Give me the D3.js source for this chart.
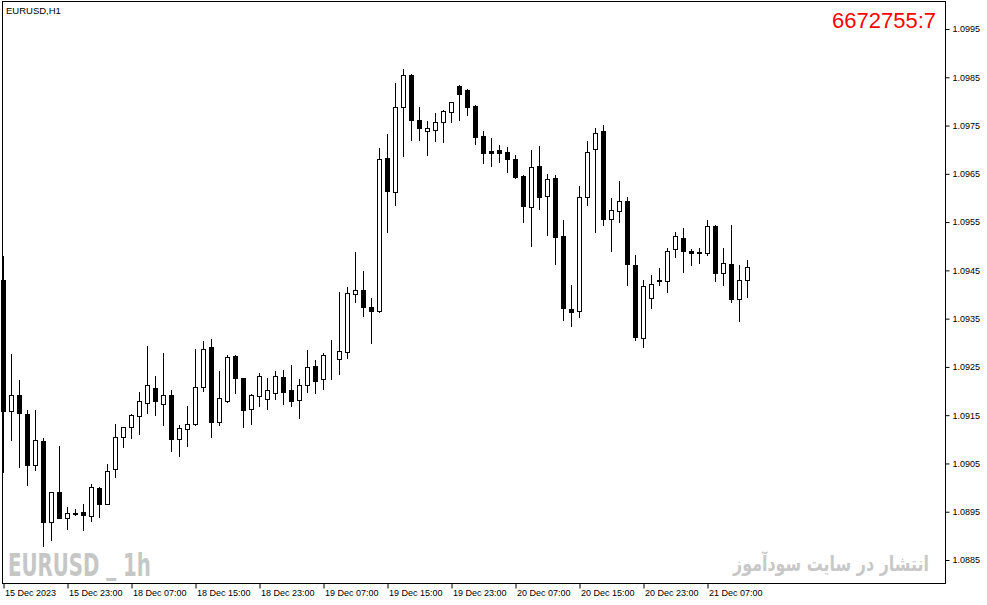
<!DOCTYPE html>
<html><head><meta charset="utf-8">
<script src="https://cdn.jsdelivr.net/npm/d3@7"></script>
<style>
html,body{margin:0;padding:0;background:#fff;}
svg{display:block;}
</style></head>
<body>
<svg id="chart" width="987" height="605"></svg>
<script>
// ---- data (EURUSD H1) ----
const symbolTitle = "EURUSD,H1";
const counterText = "6672755:7";
const watermarkLeft = ["EURUSD ", "_", " 1h"];
const watermarkRight = "انتشار در سایت سودآموز";

const opens = [1.09430,1.09159,1.09191,1.09152,1.09047,1.09097,1.08929,1.08990,1.08938,1.08948,
1.08949,1.08941,1.08999,1.08967,1.09038,1.09104,1.09125,1.09148,1.09175,1.09206,
1.09173,1.09191,1.09100,1.09121,1.09131,1.09208,1.09291,1.09135,1.09180,1.09273,
1.09226,1.09162,1.09189,1.09184,1.09195,1.09229,1.09202,1.09182,1.09212,1.09251,
1.09224,1.09270,1.09266,1.09280,1.09400,1.09409,1.09374,1.09365,1.09682,1.09613,
1.09788,1.09854,1.09762,1.09739,1.09741,1.09757,1.09779,1.09832,1.09824,1.09791,
1.09728,1.09698,1.09699,1.09695,1.09681,1.09646,1.09581,1.09666,1.09605,1.09641,
1.09521,1.09369,1.09366,1.09603,1.09701,1.09739,1.09556,1.09574,1.09594,1.09461,
1.09309,1.09392,1.09431,1.09427,1.09494,1.09517,1.09490,1.09488,1.09487,1.09542,
1.09444,1.09463,1.09390,1.09431];
const highs = [1.09480,1.09277,1.09223,1.09161,1.09161,1.09102,1.08991,1.09086,1.08959,1.08955,
1.08967,1.09007,1.09001,1.09049,1.09132,1.09126,1.09152,1.09197,1.09293,1.09231,
1.09278,1.09202,1.09130,1.09169,1.09287,1.09304,1.09308,1.09241,1.09275,1.09275,
1.09227,1.09194,1.09237,1.09226,1.09241,1.09244,1.09254,1.09225,1.09285,1.09264,
1.09278,1.09306,1.09405,1.09416,1.09488,1.09449,1.09392,1.09703,1.09733,1.09838,
1.09867,1.09856,1.09788,1.09759,1.09777,1.09782,1.09799,1.09834,1.09825,1.09792,
1.09739,1.09724,1.09710,1.09705,1.09689,1.09647,1.09699,1.09708,1.09650,1.09648,
1.09554,1.09420,1.09625,1.09718,1.09745,1.09751,1.09599,1.09635,1.09601,1.09482,
1.09431,1.09440,1.09454,1.09496,1.09530,1.09537,1.09494,1.09496,1.09554,1.09543,
1.09496,1.09544,1.09461,1.09472];
const lows = [1.09033,1.09099,1.09043,1.09005,1.09036,1.08880,1.08891,1.08936,1.08915,1.08943,
1.08912,1.08931,1.08940,1.08966,1.09022,1.09085,1.09102,1.09112,1.09155,1.09151,
1.09130,1.09076,1.09066,1.09087,1.09130,1.09201,1.09104,1.09129,1.09178,1.09195,
1.09126,1.09131,1.09170,1.09162,1.09183,1.09173,1.09168,1.09144,1.09199,1.09195,
1.09205,1.09224,1.09235,1.09269,1.09385,1.09356,1.09300,1.09364,1.09530,1.09585,
1.09687,1.09720,1.09720,1.09689,1.09718,1.09716,1.09758,1.09762,1.09772,1.09712,
1.09673,1.09667,1.09675,1.09653,1.09641,1.09551,1.09501,1.09577,1.09523,1.09463,
1.09347,1.09335,1.09354,1.09585,1.09530,1.09543,1.09491,1.09551,1.09420,1.09306,
1.09292,1.09371,1.09420,1.09406,1.09478,1.09447,1.09461,1.09466,1.09482,1.09427,
1.09420,1.09385,1.09346,1.09395];
const closes = [1.09159,1.09191,1.09154,1.09047,1.09099,1.08929,1.08990,1.08938,1.08947,1.08946,
1.08943,1.09001,1.08967,1.09034,1.09104,1.09125,1.09150,1.09179,1.09212,1.09179,
1.09191,1.09100,1.09123,1.09131,1.09208,1.09287,1.09135,1.09185,1.09270,1.09226,
1.09160,1.09191,1.09231,1.09202,1.09231,1.09197,1.09180,1.09212,1.09249,1.09221,
1.09274,1.09270,1.09282,1.09403,1.09409,1.09375,1.09366,1.09680,1.09615,1.09788,
1.09854,1.09762,1.09744,1.09744,1.09757,1.09780,1.09798,1.09815,1.09789,1.09727,
1.09694,1.09694,1.09694,1.09680,1.09644,1.09584,1.09664,1.09603,1.09639,1.09520,
1.09371,1.09364,1.09601,1.09695,1.09734,1.09557,1.09575,1.09594,1.09463,1.09311,
1.09418,1.09421,1.09428,1.09491,1.09521,1.09491,1.09485,1.09485,1.09542,1.09444,
1.09465,1.09391,1.09431,1.09456];

const timeTickIndex = [0,8,16,24,32,40,48,56,64,72,80,88];
const timeTickLabels = ["15 Dec 2023","15 Dec 23:00","18 Dec 07:00","18 Dec 15:00","18 Dec 23:00",
"19 Dec 07:00","19 Dec 15:00","19 Dec 23:00","20 Dec 07:00","20 Dec 15:00","20 Dec 23:00","21 Dec 07:00"];
const priceTicks = [1.0885,1.0895,1.0905,1.0915,1.0925,1.0935,1.0945,1.0955,1.0965,1.0975,1.0985,1.0995];

// ---- layout ----
const L = 2, R = 945, T = 1, B = 583;
const svg = d3.select("#chart");
const x = d3.scaleLinear().domain([0, 100]).range([3, 803]);
const y = d3.scaleLinear().domain([1.0885, 1.0995]).range([560, 29]);
const axisFont = "'Liberation Sans', Arial, sans-serif";

const candles = opens.map((o, i) => ({i, o, h: highs[i], l: lows[i], c: closes[i]}));

// frame
svg.append("rect").attr("x", L + 0.5).attr("y", T + 0.5)
  .attr("width", R - L).attr("height", B - T)
  .attr("fill", "#fff").attr("stroke", "#000").attr("stroke-width", 1);

// watermarks (squeezed horizontally to the reference width)
function fitText(sel, x0, base, targetW) {
  const w = sel.node().getComputedTextLength();
  const sx = targetW / w;
  sel.attr("transform", `translate(${x0},${base}) scale(${sx},1)`);
}
const wl = svg.append("text").attr("x", 0).attr("y", 0)
  .attr("font-family", "'Liberation Sans Narrow','DejaVu Sans Condensed','Liberation Sans',sans-serif")
  .attr("font-weight", "bold").attr("font-size", 32)
  .attr("fill", "#c6c6c6");
wl.append("tspan").text(watermarkLeft[0]);
wl.append("tspan").attr("dy", -3).text(watermarkLeft[1]);
wl.append("tspan").attr("dy", 3).text(watermarkLeft[2]);
fitText(wl, 8, 576, 143);

const wr = svg.append("text").attr("x", 0).attr("y", 0)
  .attr("font-family", "'DejaVu Sans',sans-serif")
  .attr("font-size", 21).attr("font-weight", "bold")
  .attr("fill", "#c8c8c8").text(watermarkRight);
fitText(wr, 733, 571, 196);

// candles
const g = svg.append("g");
const cg = g.selectAll("g.c").data(candles).join("g").attr("class", "c");
cg.append("line")
  .attr("x1", d => Math.round(x(d.i)) + 0.5).attr("x2", d => Math.round(x(d.i)) + 0.5)
  .attr("y1", d => Math.round(y(d.h))).attr("y2", d => Math.round(y(d.l)) + 1)
  .attr("stroke", "#000").attr("stroke-width", 1);
cg.append("rect")
  .attr("x", d => Math.round(x(d.i)) - 2 + 0.5)
  .attr("y", d => Math.round(y(Math.max(d.o, d.c))) + 0.5)
  .attr("width", 4)
  .attr("height", d => Math.max(0, Math.round(y(Math.min(d.o, d.c))) - Math.round(y(Math.max(d.o, d.c)))))
  .attr("fill", d => d.c >= d.o ? "#fff" : "#000")
  .attr("stroke", "#000").attr("stroke-width", 1);

// title
svg.append("text").attr("x", 6).attr("y", 14)
  .attr("font-family", axisFont).attr("font-size", 9.5).attr("fill", "#000").text(symbolTitle);
// counter
svg.append("text").attr("x", 936).attr("y", 28).attr("text-anchor", "end")
  .attr("font-family", axisFont).attr("font-size", 22).attr("fill", "#ff0000").text(counterText);

// y axis (right)
const yAxis = d3.axisRight(y).tickValues(priceTicks).tickFormat(d3.format(".4f")).tickSize(4).tickPadding(3);
const ya = svg.append("g").attr("transform", `translate(${R + 0.5},0)`).call(yAxis);
ya.select(".domain").remove();
ya.selectAll("text").attr("font-family", axisFont).attr("font-size", 9).attr("fill", "#000");
ya.selectAll("line").attr("stroke", "#000");

// x axis (bottom)
const xAxis = d3.axisBottom(x).tickValues(timeTickIndex)
  .tickFormat((d, i) => timeTickLabels[i]).tickSize(5).tickPadding(3);
const xa = svg.append("g").attr("transform", `translate(0.5,${B + 0.5})`).call(xAxis);
xa.select(".domain").remove();
xa.selectAll("text").attr("font-family", axisFont).attr("font-size", 9)
  .attr("fill", "#000").attr("text-anchor", "start").attr("x", 1).attr("dy", "0.71em").attr("y", 6);
xa.selectAll("line").attr("stroke", "#000");
</script>
</body></html>
